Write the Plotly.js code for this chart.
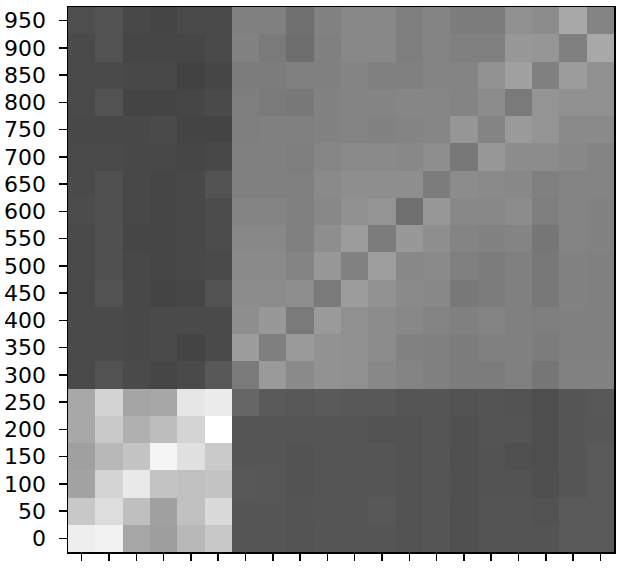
<!DOCTYPE html>
<html>
<head>
<meta charset="utf-8">
<script src="https://cdn.plot.ly/plotly-3.0.1.min.js"></script>
<style>html,body{margin:0;padding:0;background:#fff;}#chart{width:621px;height:568px;}</style>
</head>
<body>
<div id="chart"></div>
<script>
// Column indices and row tick labels
const columns = [0,1,2,3,4,5,6,7,8,9,10,11,12,13,14,15,16,17,18,19];
const rowLabels = [0,50,100,150,200,250,300,350,400,450,500,550,600,650,700,750,800,850,900,950];

// Cell intensities (0 = black, 255 = white), one array per row, bottom to top
const row0  = [238,242,166,158,184,200, 85,86,84,86,86,86,82,86,80,84,84,84,90,90];
const row1  = [200,221,191,160,192,218, 86,86,84,85,86,88,82,86,80,84,84,82,90,90];
const row2  = [163,212,233,195,192,196, 88,87,83,85,86,86,82,85,80,83,83,79,86,90];
const row3  = [160,184,196,245,225,202, 86,86,83,85,86,86,82,86,80,83,80,78,86,90];
const row4  = [168,201,176,189,212,255, 86,86,85,85,86,82,82,85,80,84,84,78,86,87];
const row5  = [168,211,165,167,230,236, 102,90,88,90,88,88,85,86,82,84,82,78,86,88];
const row6  = [74,82,74,70,74,88, 122,154,138,146,144,136,132,128,124,124,128,118,130,130];
const row7  = [74,74,72,74,68,74, 156,126,154,146,144,140,130,128,124,128,128,124,128,128];
const row8  = [74,74,72,74,74,74, 142,152,122,154,144,140,136,132,128,132,128,126,128,128];
const row9  = [74,82,72,68,70,82, 140,140,142,122,156,146,138,136,120,124,128,120,130,128];
const row10 = [74,80,72,70,72,74, 138,138,132,152,130,158,136,138,128,124,128,120,130,128];
const row11 = [74,80,70,70,72,76, 136,136,128,142,156,124,152,142,132,130,132,118,132,130];
const row12 = [76,80,72,70,72,76, 132,132,128,136,144,148,112,152,136,136,140,126,132,130];
const row13 = [74,80,72,70,72,82, 128,128,128,138,142,142,142,124,140,138,136,128,132,132];
const row14 = [74,74,72,72,70,72, 128,128,126,134,138,138,136,142,120,152,140,140,136,132];
const row15 = [72,72,72,74,68,68, 126,128,128,130,132,130,132,134,150,132,154,148,138,138];
const row16 = [74,82,68,68,70,74, 126,122,120,130,132,132,134,134,132,140,122,148,144,144];
const row17 = [74,74,72,72,66,70, 124,124,128,128,132,128,128,132,132,146,160,128,156,144];
const row18 = [74,82,70,70,70,74, 130,122,110,128,136,136,126,132,128,128,152,150,128,168];
const row19 = [78,82,72,69,74,74, 128,128,112,130,136,136,126,132,124,124,144,140,168,132];

const z = [row0,row1,row2,row3,row4,row5,row6,row7,row8,row9,row10,
           row11,row12,row13,row14,row15,row16,row17,row18,row19];

const trace = {
  type: 'heatmap',
  x: columns,
  y: rowLabels,
  z: z,
  zmin: 0,
  zmax: 255,
  colorscale: [[0,'rgb(0,0,0)'],[1,'rgb(255,255,255)']],
  showscale: false,
  hoverinfo: 'none'
};

const layout = {
  width: 621,
  height: 568,
  margin: {l: 68, r: 7, t: 7, b: 16, pad: 0},
  paper_bgcolor: '#ffffff',
  plot_bgcolor: '#ffffff',
  font: {family: 'DejaVu Sans', size: 22, color: '#000'},
  xaxis: {
    range: [-0.5, 19.5],
    tickvals: columns,
    showticklabels: false,
    ticks: 'outside',
    ticklen: 7,
    tickwidth: 1.5,
    tickcolor: '#000',
    showgrid: false,
    zeroline: false,
    showline: true,
    linecolor: '#000',
    linewidth: 1.5,
    mirror: true
  },
  yaxis: {
    range: [-25, 975],
    tickvals: rowLabels,
    ticktext: rowLabels.map(String),
    ticks: 'outside',
    ticklen: 8,
    tickwidth: 1.5,
    tickcolor: '#000',
    ticklabelstandoff: 8,
    tickfont: {family: 'DejaVu Sans', size: 22, color: '#000'},
    showgrid: false,
    zeroline: false,
    showline: true,
    linecolor: '#000',
    linewidth: 1.5,
    mirror: true
  }
};

Plotly.newPlot('chart', [trace], layout, {staticPlot: true, displayModeBar: false});
</script>
</body>
</html>
